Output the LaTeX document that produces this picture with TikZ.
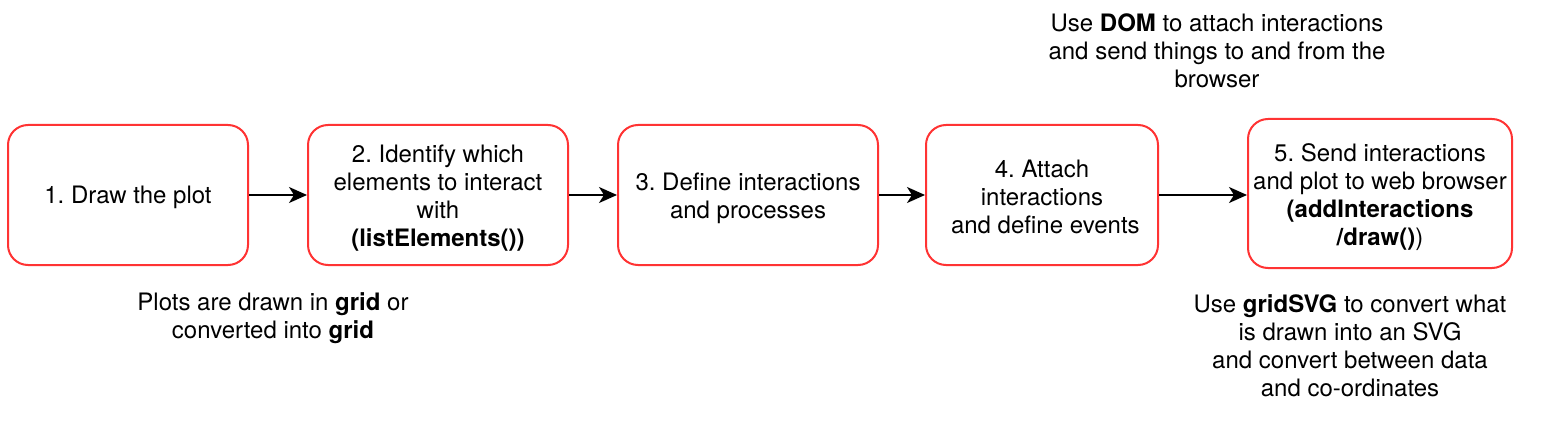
\documentclass[tikz,border=0pt]{standalone}
\usepackage{fontspec}
\setmainfont{TeX Gyre Heros}
\usetikzlibrary{arrows.meta}
\definecolor{boxred}{RGB}{255,51,51}
\frenchspacing
\begin{document}
\begin{tikzpicture}[x=1pt,y=-1pt,
  stepbox/.style={draw=boxred,line width=2pt,rounded corners=20pt,inner sep=0pt},
  steptext/.style={align=center,inner sep=0pt,font=\fontsize{24}{28}\selectfont},
  note/.style={align=center,inner sep=0pt,font=\fontsize{24}{28}\selectfont},
  conn/.style={line width=1.8pt,-{Stealth[length=18pt,width=16pt,inset=5pt]}}]
\useasboundingbox (0,0) rectangle (1557,433);
\node[stepbox,minimum width=240pt,minimum height=140pt] (b1) at (128,195) {};
\node[stepbox,minimum width=260pt,minimum height=140pt] (b2) at (438,195) {};
\node[stepbox,minimum width=260pt,minimum height=140pt] (b3) at (748,195) {};
\node[stepbox,minimum width=232pt,minimum height=140pt] (b4) at (1042,195) {};
\node[stepbox,minimum width=264pt,minimum height=149pt] (b5) at (1380,193.5) {};
\node[steptext] (t1) at ([yshift=-2pt]b1.center) {1. Draw the plot};
\node[steptext] (t2) at ([yshift=-3pt]b2.center) {2. Identify which\\elements to interact\\with\\\textbf{(listElements())}};
\node[steptext] (t3) at ([yshift=-3pt]b3.center) {3. Define interactions\\and processes};
\node[steptext] (t4) at ([yshift=-2pt]b4.center) {4. Attach\\interactions\\\ and define events};
\node[steptext] (t5) at ([yshift=-4pt]b5.center) {5. Send interactions\\and plot to web browser\\\textbf{(addInteractions}\\\textbf{/draw()})};
\draw[conn] (b1) -- (b2);
\draw[conn] (b2) -- (b3);
\draw[conn] (b3) -- (b4);
\draw[conn] (b4.east) -- (b5.west|-b4.east);
\node[note] (n1) at (1217,51) {Use \textbf{DOM} to attach interactions\\and send things to and from the\\browser};
\node[note] (n2) at (273,318) {Plots are drawn in \textbf{grid} or\\converted into \textbf{grid}};
\node[note] (n3) at (1350,346) {Use \textbf{gridSVG} to convert what\\is drawn into an SVG\\and convert between data\\and co-ordinates};
\end{tikzpicture}
\end{document}
